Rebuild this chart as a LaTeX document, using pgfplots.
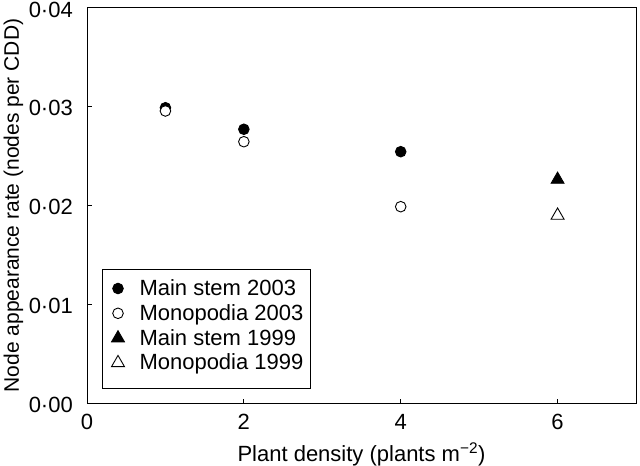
\documentclass[border=0pt]{standalone}
\usepackage{fontspec}
\setmainfont{Liberation Sans}
\usepackage{pgfplots}
\pgfplotsset{compat=1.18}
\pgfplotsset{lim/.style={legend image code/.code={%
  \draw[##1] plot coordinates {(11bp,7bp)};
  \path[draw=none,fill=none] (0bp,0bp) rectangle (22bp,0bp);}}}
\begin{document}
\fontsize{22bp}{26bp}\selectfont
\begin{tikzpicture}
\begin{axis}[
  scale only axis, width=549bp, height=395bp,
  xmin=0, xmax=7, ymin=0, ymax=0.04,
  xtick={0,2,4,6}, xticklabels={0,2,4,6},
  ytick={0,0.01,0.02,0.03,0.04},
  yticklabels={0·00,0·01,0·02,0·03,0·04},
  tick align=inside, xtick pos=bottom, ytick pos=left,
  major tick length=4.5bp,
  tick style={black, line width=1bp},
  axis line style={line width=1bp},
  xticklabel style={font=\fontsize{22bp}{26bp}\selectfont, anchor=base, inner sep=0pt, yshift=-26bp},
  yticklabel style={font=\fontsize{22bp}{26bp}\selectfont, anchor=east, inner sep=0pt, xshift=-14bp, yshift=-1.5bp},
  xlabel={Plant density (plants m\textsuperscript{−2})},
  ylabel={Node appearance rate (nodes per CDD)},
  xlabel style={font=\fontsize{22bp}{26bp}\selectfont, at={(rel axis cs:0.5,0)}, anchor=base, inner sep=0pt, yshift=-58bp},
  ylabel style={font=\fontsize{21bp}{25bp}\selectfont, at={(rel axis cs:0,0.5)}, anchor=base, inner sep=0pt, yshift=68bp},
  legend cell align=left,
  legend style={at={(rel axis cs:0,0)}, anchor=south west, xshift=15bp, yshift=14bp,
    font=\fontsize{22bp}{26bp}\selectfont, draw=black, line width=1bp,
    inner xsep=4.5bp, inner ysep=9bp, row sep=-1.8bp, column sep=7.5bp,
    nodes={anchor=base west, inner xsep=3bp, inner ysep=0pt, text height=17bp, text depth=9.6bp}},
  clip=false,
]
\addplot[only marks, mark=*, mark size=5.3bp, mark options={fill=black, draw=black, line width=0.9bp}, lim] coordinates {(1,0.0299) (2,0.02772) (4,0.02545)};
\addlegendentry{Main stem 2003}
\addplot[only marks, mark=*, mark size=5.3bp, mark options={fill=white, draw=black, line width=0.9bp}, lim] coordinates {(1,0.02957) (2,0.02646) (4,0.01988)};
\addlegendentry{Monopodia 2003}
\addplot[only marks, mark=triangle*, mark size=7.5bp, mark options={fill=black, draw=black, line width=0.8bp}, lim] coordinates {(6,0.02263)};
\addlegendentry{Main stem 1999}
\addplot[only marks, mark=triangle*, mark size=7.5bp, mark options={fill=white, draw=black, line width=0.9bp}, lim] coordinates {(6,0.01899)};
\addlegendentry{Monopodia 1999}
\coordinate (sw) at (rel axis cs:0,0);
\coordinate (ne) at (rel axis cs:1,1);
\end{axis}
\pgfresetboundingbox
\path ([shift={(-87bp,-62bp)}]sw) rectangle ([shift={(4bp,8bp)}]ne);
\end{tikzpicture}
\end{document}
